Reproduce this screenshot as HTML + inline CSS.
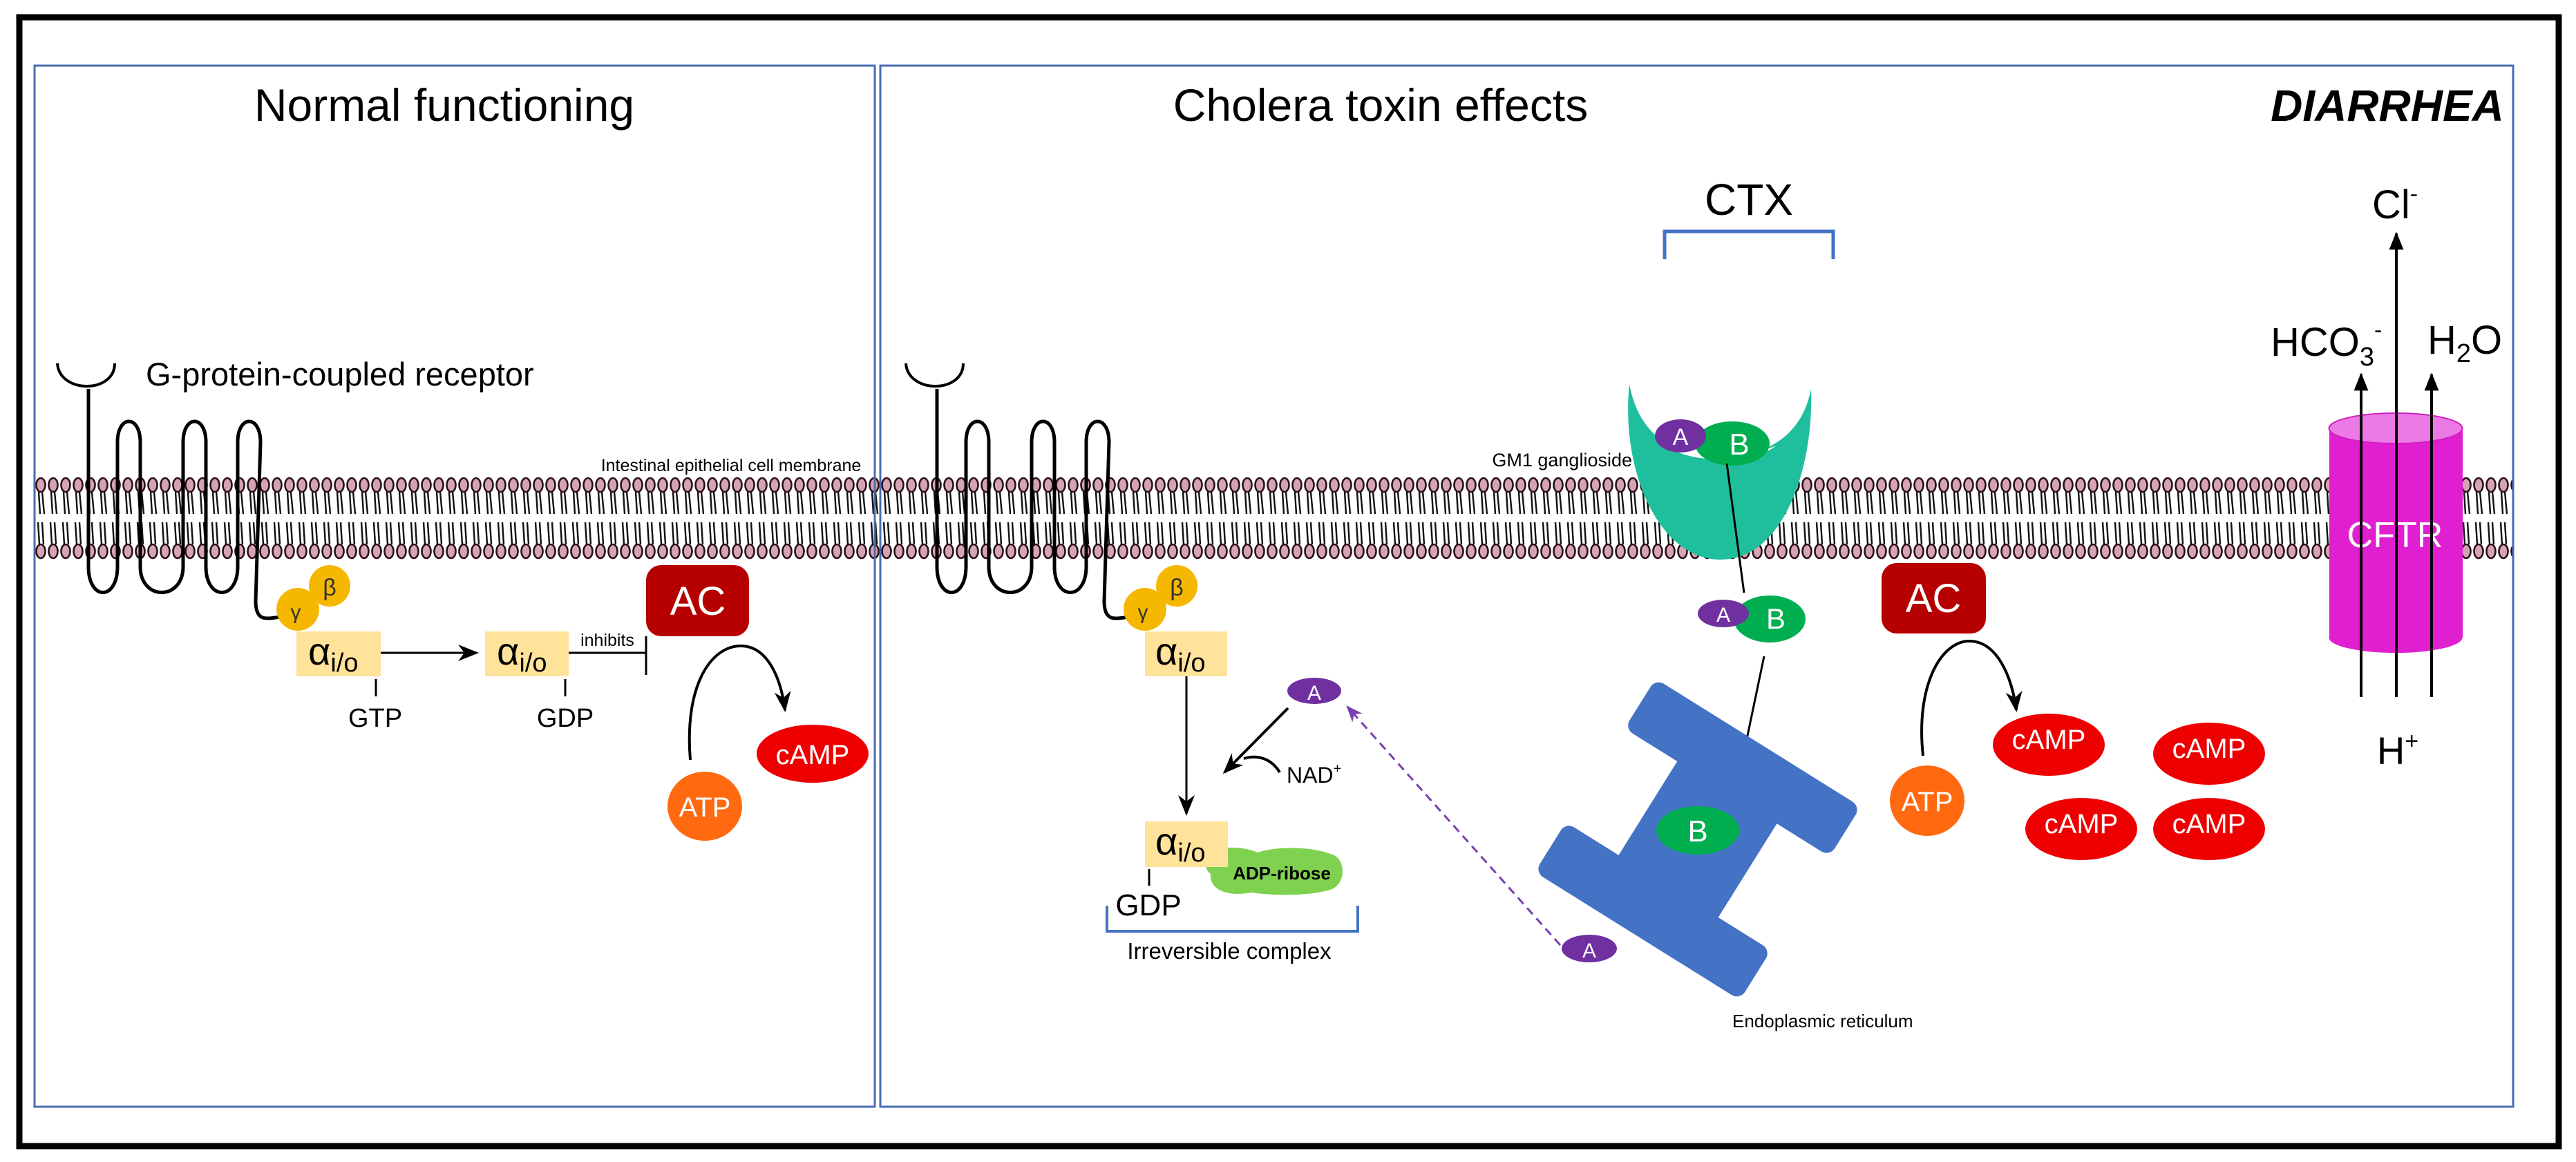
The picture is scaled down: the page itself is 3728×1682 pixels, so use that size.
<!DOCTYPE html>
<html><head><meta charset="utf-8"><style>
html,body{margin:0;padding:0;background:#fff;}
svg{display:block;font-family:"Liberation Sans",sans-serif;}
</style></head><body>
<svg width="3728" height="1682" viewBox="0 0 3728 1682" xmlns="http://www.w3.org/2000/svg">
<defs>
<pattern id="mem" x="50" y="0" width="18" height="1682" patternUnits="userSpaceOnUse">
<line x1="6" y1="712" x2="8" y2="744" stroke="#111" stroke-width="2.4"/>
<line x1="11" y1="712" x2="14" y2="744" stroke="#111" stroke-width="2.4"/>
<line x1="5" y1="756" x2="7" y2="788" stroke="#111" stroke-width="2.4"/>
<line x1="11" y1="756" x2="13" y2="788" stroke="#111" stroke-width="2.4"/>
<ellipse cx="9" cy="702" rx="6.5" ry="10" fill="#d4a3b4" stroke="#2a0f18" stroke-width="2.6"/>
<ellipse cx="9" cy="798" rx="6.5" ry="10" fill="#d4a3b4" stroke="#2a0f18" stroke-width="2.6"/>
</pattern>
<marker id="ah" viewBox="0 0 10 10" refX="9" refY="5" markerWidth="26" markerHeight="26" orient="auto" markerUnits="userSpaceOnUse">
<path d="M0,1 L10,5 L0,9 z" fill="#000"/></marker>
<marker id="ahb" viewBox="0 0 10 10" refX="9" refY="5" markerWidth="30" markerHeight="30" orient="auto" markerUnits="userSpaceOnUse">
<path d="M0,1 L10,5 L0,9 L3,5 z" fill="#000"/></marker>
<marker id="ahp" viewBox="0 0 10 10" refX="9" refY="5" markerWidth="24" markerHeight="24" orient="auto" markerUnits="userSpaceOnUse">
<path d="M0,1 L10,5 L0,9 L3,5 z" fill="#7a3fb0"/></marker>
<g id="rec">
<path d="M83,526 C86,570 166,570 166,526" fill="none" stroke="#000" stroke-width="4"/>
<path d="M128,563 L128,820 C128,870 170,870 170,820 L170,640 C170,600 203,600 203,640 L203,820 C203,870 265,870 265,820 L265,640 C265,600 298,600 298,640 L298,820 C298,870 344,870 344,820 L344,640 C344,600 377,600 377,640 L370,870 C370,900 385,896 405,893" fill="none" stroke="#000" stroke-width="5"/>
</g>
</defs>

<rect x="28" y="25" width="3675" height="1634" fill="none" stroke="#000" stroke-width="9"/>
<rect x="50" y="688" width="3587" height="124" fill="url(#mem)"/>
<rect x="50" y="95" width="1216" height="1507" fill="none" stroke="#4a6db0" stroke-width="3"/>
<rect x="1274" y="95" width="2363" height="1507" fill="none" stroke="#4a6db0" stroke-width="3"/>

<text x="643" y="175" font-size="66" text-anchor="middle">Normal functioning</text>
<text x="1998" y="175" font-size="66" text-anchor="middle">Cholera toxin effects</text>
<text x="3455" y="175" font-size="64" font-weight="bold" font-style="italic" text-anchor="middle">DIARRHEA</text>
<text x="211" y="558" font-size="47">G-protein-coupled receptor</text>
<text x="1058" y="682" font-size="25" text-anchor="middle">Intestinal epithelial cell membrane</text>

<use href="#rec"/>
<circle cx="477" cy="848" r="30" fill="#f5b700"/>
<circle cx="431" cy="882" r="31" fill="#f5b700"/>
<text x="477" y="862" font-size="34" text-anchor="middle" fill="#333">β</text>
<text x="428" y="896" font-size="30" text-anchor="middle" fill="#333">γ</text>
<rect x="429" y="914" width="122" height="65" fill="#ffe39a"/>
<text x="446" y="962" font-size="56">α<tspan font-size="38" dy="10">i/o</tspan></text>
<rect x="702" y="914" width="121" height="65" fill="#ffe39a"/>
<text x="719" y="962" font-size="56">α<tspan font-size="38" dy="10">i/o</tspan></text>
<line x1="551" y1="945" x2="690" y2="945" stroke="#000" stroke-width="3" marker-end="url(#ahb)"/>
<line x1="544" y1="983" x2="544" y2="1008" stroke="#000" stroke-width="3"/>
<text x="543" y="1052" font-size="38" text-anchor="middle">GTP</text>
<line x1="818" y1="983" x2="818" y2="1008" stroke="#000" stroke-width="3"/>
<text x="818" y="1052" font-size="38" text-anchor="middle">GDP</text>
<line x1="823" y1="945" x2="935" y2="945" stroke="#000" stroke-width="3"/>
<line x1="935" y1="921" x2="935" y2="977" stroke="#000" stroke-width="3"/>
<text x="879" y="935" font-size="25" text-anchor="middle">inhibits</text>
<rect x="935" y="818" width="149" height="103" rx="22" fill="#b60000"/>
<text x="1010" y="890" font-size="58" fill="#fff" text-anchor="middle">AC</text>
<path d="M999,1100 C990,990 1030,935 1072,935 C1110,935 1130,980 1136,1028" fill="none" stroke="#000" stroke-width="4" marker-end="url(#ahb)"/>
<ellipse cx="1020" cy="1167" rx="54" ry="50" fill="#ff6a10"/>
<text x="1020" y="1182" font-size="40" fill="#fff" text-anchor="middle">ATP</text>
<ellipse cx="1176" cy="1091" rx="81" ry="42" fill="#ee0000"/>
<text x="1176" y="1106" font-size="40" fill="#fff" text-anchor="middle">cAMP</text>

<use href="#rec" transform="translate(1228,0)"/>
<circle cx="1703" cy="848" r="30" fill="#f5b700"/>
<circle cx="1657" cy="882" r="31" fill="#f5b700"/>
<text x="1703" y="862" font-size="34" text-anchor="middle" fill="#333">β</text>
<text x="1654" y="896" font-size="30" text-anchor="middle" fill="#333">γ</text>
<rect x="1657" y="914" width="119" height="65" fill="#ffe39a"/>
<text x="1672" y="962" font-size="56">α<tspan font-size="38" dy="10">i/o</tspan></text>
<line x1="1717" y1="979" x2="1717" y2="1178" stroke="#000" stroke-width="3" marker-end="url(#ahb)"/>
<path d="M1752,1240 C1760,1222 1800,1225 1820,1234 C1850,1224 1900,1226 1925,1236 C1948,1240 1950,1280 1925,1288 C1890,1298 1840,1296 1810,1292 C1780,1298 1750,1290 1752,1265 C1742,1258 1745,1245 1752,1240 z" fill="#7fd150"/>
<rect x="1657" y="1189" width="120" height="66" fill="#ffe39a"/>
<text x="1672" y="1237" font-size="56">α<tspan font-size="38" dy="10">i/o</tspan></text>
<text x="1855" y="1273" font-size="26" font-weight="bold" text-anchor="middle">ADP-ribose</text>
<line x1="1663" y1="1258" x2="1663" y2="1282" stroke="#000" stroke-width="3"/>
<text x="1662" y="1325" font-size="44" text-anchor="middle">GDP</text>
<path d="M1602,1311 L1602,1348 L1965,1348 L1965,1311" fill="none" stroke="#4472c4" stroke-width="4"/>
<text x="1779" y="1388" font-size="33" text-anchor="middle">Irreversible complex</text>
<ellipse cx="1902" cy="1000" rx="39" ry="19" fill="#7030a0"/>
<text x="1902" y="1013" font-size="30" fill="#fff" text-anchor="middle">A</text>
<line x1="1864" y1="1025" x2="1772" y2="1118" stroke="#000" stroke-width="4" marker-end="url(#ahb)"/>
<path d="M1852,1118 C1840,1098 1820,1092 1800,1098" fill="none" stroke="#000" stroke-width="4"/>
<text x="1862" y="1133" font-size="32">NAD<tspan font-size="20" dy="-14">+</tspan></text>
<line x1="2258" y1="1368" x2="1950" y2="1023" stroke="#7a3fb0" stroke-width="3" stroke-dasharray="12,8" marker-end="url(#ahp)"/>

<text x="2531" y="311" font-size="64" text-anchor="middle">CTX</text>
<path d="M2409,375 L2409,335 L2653,335 L2653,375" fill="none" stroke="#4472c4" stroke-width="5"/>
<text x="2362" y="675" font-size="27" text-anchor="end">GM1 ganglioside</text>
<path d="M2358,556 C2370,620 2410,660 2490,662 C2570,660 2610,620 2621,563 C2625,680 2580,810 2490,810 C2400,810 2345,680 2358,556 z" fill="#1fbf9d"/>
<path d="M2420,650 C2450,670 2540,672 2570,645 C2540,660 2460,660 2420,650 z" fill="#fff"/>
<ellipse cx="2507" cy="642" rx="54" ry="32" fill="#00ae50"/>
<ellipse cx="2432" cy="631" rx="37" ry="24" fill="#7030a0"/>
<text x="2432" y="644" font-size="34" fill="#fff" text-anchor="middle">A</text>
<text x="2517" y="658" font-size="44" fill="#fff" text-anchor="middle">B</text>
<line x1="2499" y1="671" x2="2524" y2="858" stroke="#000" stroke-width="3"/>
<ellipse cx="2561" cy="896" rx="52" ry="34" fill="#00ae50"/>
<ellipse cx="2494" cy="888" rx="37" ry="20" fill="#7030a0"/>
<text x="2494" y="900" font-size="30" fill="#fff" text-anchor="middle">A</text>
<text x="2570" y="910" font-size="42" fill="#fff" text-anchor="middle">B</text>
<line x1="2553" y1="950" x2="2521" y2="1103" stroke="#000" stroke-width="3" marker-end="url(#ahb)"/>

<g transform="translate(2457,1215) rotate(32)">
<rect x="-175" y="-165" width="350" height="85" rx="14" fill="#4472c4"/>
<rect x="-175" y="80" width="350" height="85" rx="14" fill="#4472c4"/>
<rect x="-85" y="-100" width="170" height="200" fill="#4472c4"/>
</g>
<ellipse cx="2457" cy="1202" rx="60" ry="35" fill="#00ae50"/>
<text x="2457" y="1218" font-size="44" fill="#fff" text-anchor="middle">B</text>
<ellipse cx="2300" cy="1373" rx="40" ry="20" fill="#7030a0"/>
<text x="2300" y="1386" font-size="30" fill="#fff" text-anchor="middle">A</text>
<text x="2507" y="1487" font-size="26">Endoplasmic reticulum</text>

<rect x="2723" y="815" width="151" height="102" rx="22" fill="#b60000"/>
<text x="2798" y="886" font-size="58" fill="#fff" text-anchor="middle">AC</text>
<path d="M2783,1094 C2772,990 2810,928 2850,928 C2890,928 2912,980 2918,1028" fill="none" stroke="#000" stroke-width="4" marker-end="url(#ahb)"/>
<ellipse cx="2789" cy="1159" rx="54" ry="51" fill="#ff6a10"/>
<text x="2789" y="1174" font-size="40" fill="#fff" text-anchor="middle">ATP</text>
<ellipse cx="2965" cy="1078" rx="81" ry="45" fill="#ee0000"/>
<text x="2965" y="1084" font-size="40" fill="#fff" text-anchor="middle">cAMP</text>
<ellipse cx="3197" cy="1091" rx="81" ry="45" fill="#ee0000"/>
<text x="3197" y="1097" font-size="40" fill="#fff" text-anchor="middle">cAMP</text>
<ellipse cx="3012" cy="1200" rx="81" ry="45" fill="#ee0000"/>
<text x="3012" y="1206" font-size="40" fill="#fff" text-anchor="middle">cAMP</text>
<ellipse cx="3197" cy="1200" rx="81" ry="45" fill="#ee0000"/>
<text x="3197" y="1206" font-size="40" fill="#fff" text-anchor="middle">cAMP</text>

<rect x="3371" y="620" width="193" height="303" fill="#e020d0"/>
<ellipse cx="3467" cy="923" rx="96.5" ry="22" fill="#e020d0"/>
<ellipse cx="3467" cy="620" rx="96.5" ry="22" fill="#ec7ae6" stroke="#d020c0" stroke-width="2"/>
<text x="3466" y="792" font-size="52" fill="#fff" text-anchor="middle">CFTR</text>
<line x1="3417" y1="1009" x2="3417" y2="542" stroke="#000" stroke-width="4" marker-end="url(#ah)"/>
<line x1="3468" y1="1009" x2="3468" y2="338" stroke="#000" stroke-width="4" marker-end="url(#ah)"/>
<line x1="3519" y1="1009" x2="3519" y2="542" stroke="#000" stroke-width="4" marker-end="url(#ah)"/>
<text x="3466" y="316" font-size="58" text-anchor="middle">Cl<tspan font-size="34" dy="-24">-</tspan></text>
<text x="3286" y="515" font-size="58">HCO<tspan font-size="38" dy="14">3</tspan><tspan font-size="34" dy="-40">-</tspan></text>
<text x="3513" y="512" font-size="58">H<tspan font-size="38" dy="12">2</tspan><tspan dy="-12">O</tspan></text>
<text x="3470" y="1106" font-size="56" text-anchor="middle">H<tspan font-size="34" dy="-22">+</tspan></text>
</svg>
</body></html>
